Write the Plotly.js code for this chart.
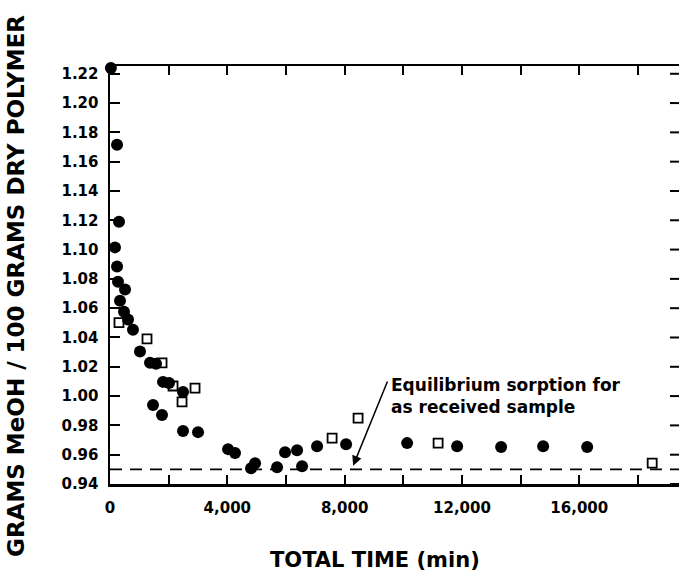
<!DOCTYPE html>
<html>
<head>
<meta charset="utf-8">
<script src="https://cdn.plot.ly/plotly-3.0.1.min.js"></script>
<style>html,body{margin:0;padding:0;background:#fff;overflow:hidden;}#chart{width:679px;height:573px;}</style>
</head>
<body>
<div id="chart"></div>
<script>
// Filled circles: total time (min) vs grams MeOH / 100 g dry polymer
const circleTime = [30, 240, 307, 170, 240, 273, 512, 341, 477, 614, 784, 1023, 1364, 1569, 1808, 2012, 2490, 1467, 1773, 2490, 3001, 4025, 4263, 4945, 4809, 5696, 5969, 6378, 6548, 7060, 8049, 10130, 11835, 13335, 14768, 16269];
const circleSorp = [1.224, 1.1715, 1.119, 1.1015, 1.0885, 1.078, 1.0727, 1.065, 1.0576, 1.0522, 1.0453, 1.0305, 1.0227, 1.022, 1.0097, 1.009, 1.0028, 0.9939, 0.9871, 0.9761, 0.9754, 0.9638, 0.9611, 0.9542, 0.9508, 0.9515, 0.9617, 0.9631, 0.9521, 0.9658, 0.9672, 0.9679, 0.9658, 0.9652, 0.9658, 0.9652];
// Open squares
const squareTime = [307, 1262, 1774, 2149, 2456, 2899, 7572, 8458, 11187, 18486];
const squareSorp = [1.0501, 1.0391, 1.0227, 1.0069, 0.996, 1.0055, 0.9713, 0.985, 0.9679, 0.9542];
// Equilibrium sorption for as received sample
const eqTime = [0, 19400];
const eqSorp = [0.95, 0.95];
// Axes
const xTickVals = [0, 2000, 4000, 6000, 8000, 10000, 12000, 14000, 16000, 18000];
const xTickText = ['0', '', '4,000', '', '8,000', '', '12,000', '', '16,000', ''];
const yTickVals = [0.94, 0.96, 0.98, 1.00, 1.02, 1.04, 1.06, 1.08, 1.10, 1.12, 1.14, 1.16, 1.18, 1.20, 1.22];
const yTickText = ['0.94', '0.96', '0.98', '1.00', '1.02', '1.04', '1.06', '1.08', '1.10', '1.12', '1.14', '1.16', '1.18', '1.20', '1.22'];
const xRange = [0, 19400];
const yRange = [0.94, 1.2253];

const FONT = 'DejaVu Sans, Liberation Sans, Arial, sans-serif';
const W = 679, L = 110, T = 66, B = 89;
const PW = W - L, PH = 573 - T - B;

const traces = [
  {x: eqTime, y: eqSorp, mode: 'lines', type: 'scatter',
   line: {color: '#000', width: 1.6, dash: '12px,8px'}, hoverinfo: 'skip', showlegend: false},
  {x: squareTime, y: squareSorp, mode: 'markers', type: 'scatter', cliponaxis: false,
   marker: {symbol: 'square-open', size: 9, color: '#000', line: {width: 1.8, color: '#000'}}, showlegend: false},
  {x: circleTime, y: circleSorp, mode: 'markers', type: 'scatter', cliponaxis: false,
   marker: {symbol: 'circle', size: 12, color: '#000'}, showlegend: false}
];

const tickFont = {family: FONT, size: 15, color: '#000', weight: 'bold'};

// right-hand tick marks (frame decoration, no axis line visible on that side)
const rightTicks = yTickVals.map(v => ({
  type: 'line', xref: 'paper', yref: 'y', x0: 1 - 9 / PW, x1: 1, y0: v, y1: v,
  line: {color: '#000', width: 2}
}));

const layout = {
  width: W, height: 573,
  margin: {l: L, r: 0, t: T, b: B},
  paper_bgcolor: '#fff', plot_bgcolor: 'rgba(0,0,0,0)',
  showlegend: false,
  xaxis: {
    range: xRange, tickmode: 'array', tickvals: xTickVals, ticktext: xTickText,
    ticks: 'inside', ticklen: 9, tickwidth: 2, tickcolor: '#000',
    showline: true, linewidth: 2.5, linecolor: '#000', mirror: 'ticks',
    showgrid: false, zeroline: false, tickfont: tickFont, ticklabelstandoff: 8
  },
  yaxis: {
    range: yRange, tickmode: 'array', tickvals: yTickVals, ticktext: yTickText,
    ticks: 'inside', ticklen: 10, tickwidth: 2, tickcolor: '#000',
    showline: true, linewidth: 2.5, linecolor: '#000',
    showgrid: false, zeroline: false, tickfont: tickFont, ticklabelstandoff: 6
  },
  shapes: rightTicks,
  annotations: [
    {xref: 'paper', yref: 'paper', x: (16 - L) / PW, y: (484 - 286) / PH, textangle: -90,
     xanchor: 'center', yanchor: 'middle', showarrow: false,
     text: 'GRAMS MeOH / 100 GRAMS DRY POLYMER',
     font: {family: FONT, size: 23, color: '#000', weight: 'bold'}},
    {xref: 'paper', yref: 'paper', x: (375 - L) / PW, y: (484 - 560) / PH,
     xanchor: 'center', yanchor: 'middle', showarrow: false,
     text: 'TOTAL TIME (min)',
     font: {family: FONT, size: 21, color: '#000', weight: 'bold'}},
    {xref: 'x', yref: 'y', x: 9500, y: 1.0001, text: 'Equilibrium sorption for<br>as received sample',
     showarrow: false, xanchor: 'left', yanchor: 'middle', align: 'left',
     font: {family: FONT, size: 17, color: '#000', weight: 'bold'}},
    {xref: 'x', yref: 'y', x: 8290, y: 0.9525, ax: 9480, ay: 1.011, axref: 'x', ayref: 'y',
     text: '', showarrow: true, arrowhead: 2, arrowsize: 1.3, arrowwidth: 1.5, arrowcolor: '#000', standoff: 0}
  ]
};

Plotly.newPlot('chart', traces, layout, {displayModeBar: false, staticPlot: true});
</script>
</body>
</html>
